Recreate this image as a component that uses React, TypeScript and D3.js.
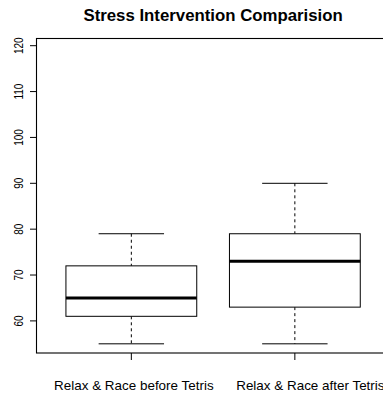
import React from "react";
import * as d3 from "d3";

// DATA
const groups = ["Relax & Race before Tetris", "Relax & Race after Tetris"];
const lowerWhisker = [55, 55];
const q1 = [61, 63];
const median = [65, 73];
const q3 = [72, 79];
const upperWhisker = [79, 90];
const yTicks = [60, 70, 80, 90, 100, 110, 120];
const title = "Stress Intervention Comparision";

export default function App() {
  // SIZE & PLOT REGION
  const width = 383;
  const height = 396;
  const plot = { left: 36.5, right: 389.7, top: 38.5, bottom: 353 };
  const font = "'Liberation Sans', Arial, Helvetica, sans-serif";
  // the reference's category labels sit a bit right of their ticks
  const labelShift = [2.5, 15.5];

  // SCALES (R style: positions 1..n, 4% padding)
  const xScale = d3.scaleLinear().domain([0.42, 2.58]).range([plot.left, plot.right]);
  const yScale = d3.scaleLinear().domain([53, 121.57]).range([plot.bottom, plot.top]);

  const boxHalf = xScale(1.4) - xScale(1);
  const capHalf = xScale(1.2) - xScale(1);

  return (
    <svg
      width={width}
      height={height}
      style={{ position: "fixed", left: 0, top: 0, background: "#fff" }}
      fontFamily={font}
    >
      {/* TITLE */}
      <text
        transform={`translate(${(plot.left + plot.right) / 2},20.5) scale(1.05,1)`}
        textAnchor="middle"
        fontSize={16}
        fontWeight="bold"
      >
        {title}
      </text>

      {/* FRAME */}
      <rect
        x={plot.left}
        y={plot.top}
        width={plot.right - plot.left}
        height={plot.bottom - plot.top}
        fill="none"
        stroke="#000"
        strokeWidth={1.1}
      />

      {/* Y AXIS */}
      {yTicks.map((t) => (
        <g key={t}>
          <line x1={plot.left - 6.5} x2={plot.left} y1={yScale(t)} y2={yScale(t)} stroke="#000" />
          <text
            transform={`translate(23,${yScale(t)}) scale(1.2,1) rotate(-90)`}
            textAnchor="middle"
            fontSize={10}
          >
            {t}
          </text>
        </g>
      ))}

      {/* X AXIS */}
      {groups.map((g, i) => (
        <g key={g}>
          <line
            x1={xScale(i + 1)}
            x2={xScale(i + 1)}
            y1={plot.bottom}
            y2={plot.bottom + 7}
            stroke="#000"
          />
          <text
            transform={`translate(${xScale(i + 1) + labelShift[i]},390) scale(1.12,1)`}
            textAnchor="middle"
            fontSize={12}
          >
            {g}
          </text>
        </g>
      ))}

      {/* BOXES */}
      {groups.map((g, i) => {
        const cx = xScale(i + 1);
        return (
          <g key={"box" + i} stroke="#000" fill="none">
            <line x1={cx} x2={cx} y1={yScale(upperWhisker[i])} y2={yScale(q3[i])} strokeDasharray="3,3" />
            <line x1={cx} x2={cx} y1={yScale(q1[i])} y2={yScale(lowerWhisker[i])} strokeDasharray="3,3" />
            <line x1={cx - capHalf} x2={cx + capHalf} y1={yScale(upperWhisker[i])} y2={yScale(upperWhisker[i])} />
            <line x1={cx - capHalf} x2={cx + capHalf} y1={yScale(lowerWhisker[i])} y2={yScale(lowerWhisker[i])} />
            <rect
              x={cx - boxHalf}
              y={yScale(q3[i])}
              width={boxHalf * 2}
              height={yScale(q1[i]) - yScale(q3[i])}
              fill="#fff"
            />
            <line x1={cx - boxHalf} x2={cx + boxHalf} y1={yScale(median[i])} y2={yScale(median[i])} strokeWidth={3} />
          </g>
        );
      })}
    </svg>
  );
}
